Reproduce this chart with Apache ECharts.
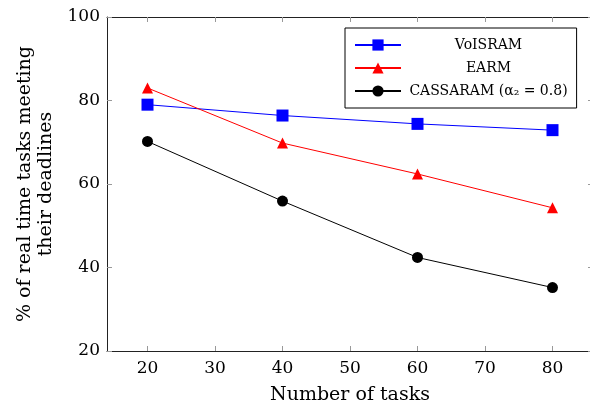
<!DOCTYPE html>
<html>
<head>
<meta charset="utf-8">
<script src="https://cdn.jsdelivr.net/npm/echarts@6/dist/echarts.min.js"></script>
<style>
  html, body { margin: 0; padding: 0; background: #fff; }
  #chart { width: 590px; height: 408px; }
</style>
</head>
<body>
<div id="chart"></div>
<script>
const tasks = [20, 40, 60, 80]
const xTicks = [20, 30, 40, 50, 60, 70, 80]
const voisram = [79.0, 76.4, 74.4, 72.9]
const earm = [83.0, 69.8, 62.4, 54.3]
const cassaram = [70.2, 55.9, 42.4, 35.2]
const seriesNames = ['VoISRAM', 'EARM', 'CASSARAM (\u03b1\u2082 = 0.8)']

const font = 'DejaVu Serif'
const pair = vals => tasks.map((t, i) => [t, vals[i]])

const chart = echarts.init(document.getElementById('chart'))

const tickStyle = { show: true, inside: true, length: 5, lineStyle: { color: '#999' } }
const frameLine = { show: true, onZero: false, lineStyle: { color: '#222', width: 1 } }

chart.setOption({
  animation: false,
  backgroundColor: '#fff',
  textStyle: { fontFamily: font },
  grid: { left: 107, width: 486, top: 17, bottom: 57, outerBoundsMode: 'none', containLabel: false },
  legend: {
    top: 28,
    left: 345,
    orient: 'vertical',
    itemWidth: 46,
    itemHeight: 14,
    itemGap: 9,
    padding: [10, 9, 10, 9],
    borderColor: '#000',
    borderWidth: 1,
    borderRadius: 0,
    data: seriesNames,
    formatter: name => '{c|' + name + '}',
    textStyle: {
      rich: { c: { width: 165, height: 14, align: 'center', fontSize: 14, fontFamily: font, color: '#000' } }
    }
  },
  xAxis: [
    {
      type: 'value',
      min: 14,
      max: 86,
      name: 'Number of tasks',
      nameLocation: 'middle',
      nameGap: 35,
      nameTextStyle: { fontSize: 19, color: '#000', fontFamily: font },
      axisLine: frameLine,
      axisTick: { ...tickStyle, customValues: xTicks },
      splitLine: { show: false },
      axisLabel: {
        fontSize: 17, color: '#000', margin: 9, fontFamily: font,
        customValues: xTicks
      }
    },
    {
      type: 'value',
      position: 'top',
      min: 14,
      max: 86,
      axisLine: frameLine,
      axisTick: { ...tickStyle, customValues: xTicks },
      axisLabel: { show: false, customValues: xTicks },
      splitLine: { show: false }
    }
  ],
  yAxis: [
    {
      type: 'value',
      min: 20,
      max: 100,
      interval: 20,
      name: '% of real time tasks meeting\ntheir deadlines',
      nameLocation: 'middle',
      nameGap: 50,
      nameRotate: 90,
      nameTextStyle: { fontSize: 19, color: '#000', fontFamily: font, lineHeight: 21 },
      axisLine: frameLine,
      axisTick: tickStyle,
      splitLine: { show: false },
      axisLabel: { fontSize: 17, color: '#000', margin: 7, fontFamily: font }
    },
    {
      type: 'value',
      position: 'right',
      min: 20,
      max: 100,
      interval: 20,
      axisLine: frameLine,
      axisTick: tickStyle,
      axisLabel: { show: false },
      splitLine: { show: false }
    }
  ],
  series: [
    {
      name: seriesNames[0],
      type: 'line',
      data: pair(voisram),
      symbol: 'rect',
      symbolSize: 12,
      itemStyle: { color: '#0000ff' },
      lineStyle: { color: '#0000ff', width: 1 }
    },
    {
      name: seriesNames[1],
      type: 'line',
      data: pair(earm),
      symbol: 'triangle',
      symbolSize: 11,
      itemStyle: { color: '#ff0000' },
      lineStyle: { color: '#ff0000', width: 1 }
    },
    {
      name: seriesNames[2],
      type: 'line',
      data: pair(cassaram),
      symbol: 'circle',
      symbolSize: 11,
      itemStyle: { color: '#000' },
      lineStyle: { color: '#000', width: 1 }
    }
  ]
})
</script>
</body>
</html>
